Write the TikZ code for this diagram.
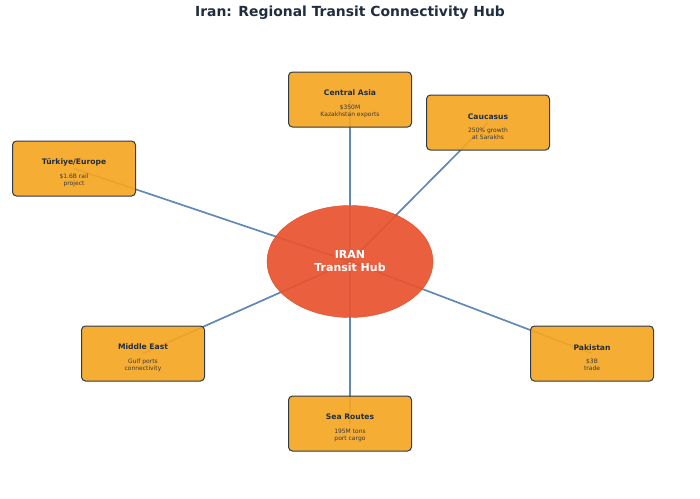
\documentclass[tikz,border=0pt]{standalone}
\usepackage{fontspec}
\setmainfont{DejaVu Sans}
\usetikzlibrary{shapes.geometric,backgrounds}
\definecolor{hubred}{HTML}{E8532E}
\definecolor{hubedge}{HTML}{E04A22}
\definecolor{boxorange}{HTML}{F5A623}
\definecolor{boxedge}{HTML}{2C3A4A}
\definecolor{titlenavy}{HTML}{1F2D3F}
\definecolor{subgray}{HTML}{3A3A3A}
\definecolor{linkblue}{HTML}{6089B5}
\newcommand{\regtitle}[1]{{\rule{0pt}{14pt}\color{titlenavy}\bfseries\fontsize{7.6}{9}\selectfont #1}}
\begin{document}
\begin{tikzpicture}[x=1pt,y=-1pt,
  region/.style={draw=boxedge,line width=1pt,fill=boxorange,fill opacity=0.92,text opacity=1,
    rounded corners=4pt,minimum width=123pt,minimum height=55pt,inner sep=0pt,
    align=center,text=subgray,font=\fontsize{6}{6.8}\selectfont},
  link/.style={draw=linkblue,line width=1.7pt}]
\useasboundingbox (0,0) rectangle (700,498);
\node[anchor=base,text=titlenavy,font=\bfseries\fontsize{13.9}{16}\selectfont] (title) at (350,16) {Iran: Regional Transit Connectivity Hub};
% hub
\node[ellipse,fill=hubred,draw=hubedge,fill opacity=0.92,text opacity=1,minimum width=166pt,minimum height=112pt,
  inner sep=0pt,align=center,text=white,font=\bfseries\fontsize{11}{13}\selectfont] (hub) at (350,261.5) {IRAN\\Transit Hub};
% regions
\node[region] (casia) at (350,99.5) {\regtitle{Central Asia}\\[7pt]\$350M\\Kazakhstan exports};
\node[region] (cauc) at (488,122.5) {\regtitle{Caucasus}\\[7pt]250\% growth\\at Sarakhs};
\node[region] (turk) at (74,168.5) {\regtitle{Türkiye/Europe}\\[7pt]\$1.6B rail\\project};
\node[region] (meast) at (143,353.5) {\regtitle{Middle East}\\[7pt]Gulf ports\\connectivity};
\node[region] (pak) at (592,353.5) {\regtitle{Pakistan}\\[7pt]\$3B\\trade};
\node[region] (sea) at (350,423.5) {\regtitle{Sea Routes}\\[7pt]195M tons\\port cargo};
% links
\begin{scope}[on background layer]
\draw[link] (hub.center) -- (casia.center);
\draw[link] (hub.center) -- (cauc.center);
\draw[link] (hub.center) -- (turk.center);
\draw[link] (hub.center) -- (meast.center);
\draw[link] (hub.center) -- (pak.center);
\draw[link] (hub.center) -- (sea.center);
\end{scope}
\end{tikzpicture}
\end{document}
